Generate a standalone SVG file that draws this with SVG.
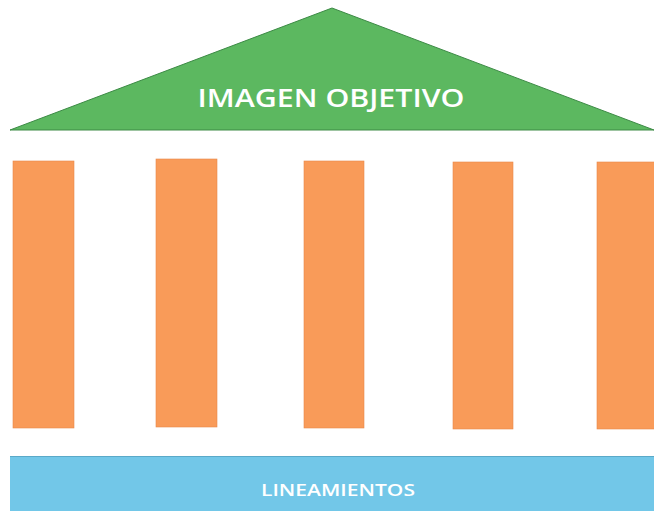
<svg xmlns="http://www.w3.org/2000/svg" width="654" height="513" viewBox="0 0 654 513">
<style>
.col{fill:#F99B59;stroke:#E8894A;stroke-width:0.6}
.lbl{font-family:"Open Sans","Liberation Sans",sans-serif;fill:#FFFFFF;text-anchor:middle}
</style>
<rect width="654" height="513" fill="#FFFFFF"/>
<g id="roof">
<polygon points="332,8 10,130 654,130" fill="#5CB860" stroke="#3C8A45" stroke-width="1"/>
<text class="lbl" x="331" y="107" font-size="26" font-weight="600" textLength="267" lengthAdjust="spacingAndGlyphs">IMAGEN OBJETIVO</text>
</g>
<g id="col1"><rect class="col" x="13" y="161" width="61" height="267"/></g>
<g id="col2"><rect class="col" x="156" y="159" width="61" height="268"/></g>
<g id="col3"><rect class="col" x="304" y="161" width="60" height="267"/></g>
<g id="col4"><rect class="col" x="453" y="162" width="60" height="267"/></g>
<g id="col5"><rect class="col" x="597" y="162" width="60" height="267"/></g>
<g id="base">
<rect x="10" y="456" width="646" height="55" fill="#72C7E8"/>
<line x1="10" y1="456.5" x2="654" y2="456.5" stroke="#5AA9C8" stroke-width="1"/>
<text class="lbl" x="338" y="496" font-size="17" font-weight="600" textLength="154" lengthAdjust="spacingAndGlyphs">LINEAMIENTOS</text>
</g>
<g id="connectors"/>
</svg>
